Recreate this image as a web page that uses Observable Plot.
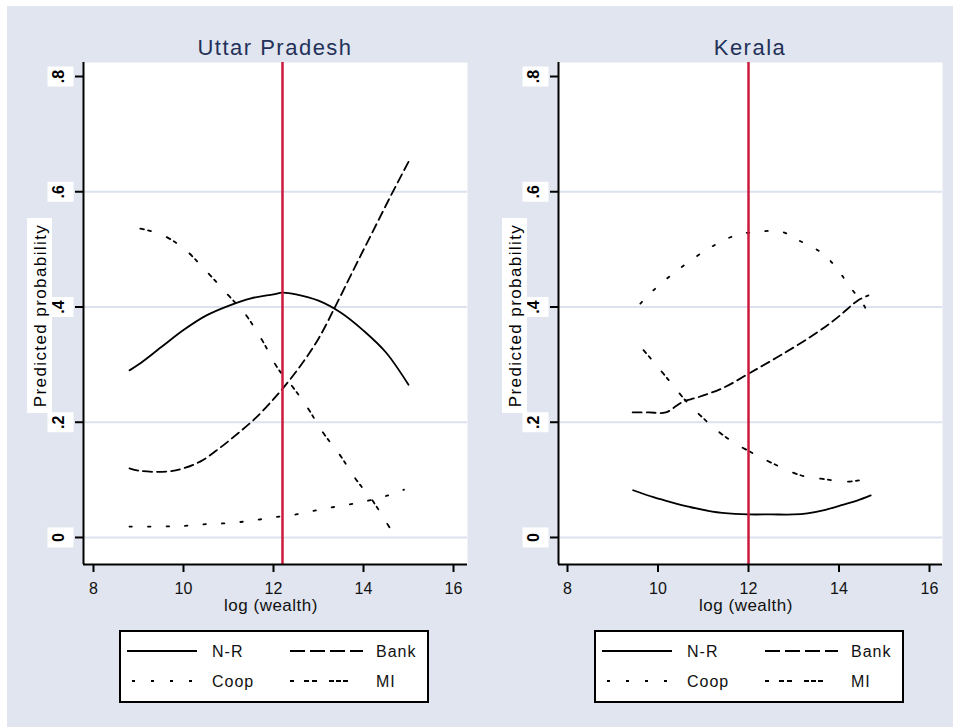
<!DOCTYPE html>
<html><head><meta charset="utf-8">
<script src="https://cdn.jsdelivr.net/npm/d3@7"></script>
<script src="https://cdn.jsdelivr.net/npm/@observablehq/plot@0.6"></script>
<style>
body{margin:0;background:#fff;}
#root{position:relative;width:953px;height:727px;overflow:hidden;font-family:"Liberation Sans",Arial,sans-serif;}
#bg{position:absolute;left:7px;top:6px;right:0;bottom:0;background:#e0e5ef;}
.panel{position:absolute;top:0;}
#overlay{position:absolute;left:0;top:0;pointer-events:none;}
</style>
</head><body>
<div id="root"><div id="bg"></div></div>
<script>
// ---------- data ----------
const states = ["Uttar Pradesh", "Kerala"];
const seriesNames = ["N-R", "Bank", "Coop", "MI"];
const xTicks = [8, 10, 12, 14, 16];
const yTicks = [0, 0.2, 0.4, 0.6, 0.8];
const yTickLabels = ["0", ".2", ".4", ".6", ".8"];
const gridValues = [0, 0.2, 0.4, 0.6];
const thresholds = [12.2, 12.0];
const xTitle = "log (wealth)";
const yTitle = "Predicted probability";

// Uttar Pradesh
const upNR_x = [8.8, 9.0, 9.5, 10.0, 10.5, 11.0, 11.5, 12.0, 12.2, 12.5, 13.0, 13.5, 14.0, 14.5, 15.0];
const upNR_y = [0.290, 0.300, 0.330, 0.360, 0.385, 0.402, 0.415, 0.422, 0.425, 0.422, 0.411, 0.390, 0.359, 0.321, 0.265];
const upBank_x = [8.8, 9.0, 9.3, 9.7, 10.0, 10.4, 10.8, 11.2, 11.6, 12.0, 12.2, 12.6, 13.0, 13.4, 13.8, 14.2, 14.6, 15.0];
const upBank_y = [0.120, 0.116, 0.114, 0.115, 0.120, 0.133, 0.155, 0.180, 0.207, 0.240, 0.258, 0.298, 0.345, 0.405, 0.468, 0.530, 0.592, 0.652];
const upCoop_x = [8.8, 9.5, 10.0, 10.5, 11.0, 11.5, 12.0, 12.5, 13.0, 13.5, 14.0, 14.5, 14.9];
const upCoop_y = [0.019, 0.019, 0.020, 0.023, 0.025, 0.029, 0.035, 0.040, 0.048, 0.055, 0.062, 0.072, 0.083];
const upMI_x = [9.04, 9.5, 10.0, 10.45, 11.0, 11.35, 11.75, 12.1, 12.4, 12.75, 13.1, 13.45, 13.85, 14.2, 14.62];
const upMI_y = [0.536, 0.526, 0.502, 0.467, 0.420, 0.390, 0.342, 0.293, 0.264, 0.226, 0.182, 0.146, 0.099, 0.064, 0.012];

// Kerala
const kNR_x = [9.45, 9.9, 10.3, 10.7, 11.2, 11.7, 12.0, 12.5, 13.0, 13.3, 13.7, 14.1, 14.4, 14.7];
const kNR_y = [0.082, 0.070, 0.061, 0.053, 0.045, 0.041, 0.040, 0.040, 0.040, 0.042, 0.048, 0.057, 0.064, 0.073];
const kBank_x = [9.44, 9.8, 10.17, 10.4, 10.56, 10.87, 11.45, 12.04, 12.77, 13.52, 13.97, 14.41, 14.65];
const kBank_y = [0.217, 0.217, 0.217, 0.228, 0.236, 0.243, 0.260, 0.286, 0.319, 0.356, 0.382, 0.411, 0.420];
const kCoop_x = [9.61, 9.9, 10.4, 11.05, 11.6, 12.1, 12.75, 13.1, 13.6, 13.9, 14.3, 14.5, 14.63];
const kCoop_y = [0.406, 0.429, 0.462, 0.498, 0.521, 0.530, 0.530, 0.516, 0.495, 0.472, 0.429, 0.410, 0.390];
const kMI_x = [9.68, 9.9, 10.3, 10.65, 11.0, 11.3, 11.67, 12.1, 12.55, 13.15, 13.6, 14.2, 14.63];
const kMI_y = [0.325, 0.305, 0.267, 0.234, 0.207, 0.186, 0.165, 0.146, 0.128, 0.108, 0.102, 0.097, 0.102];

// ---------- styles ----------
const dashes = {"N-R": null, "Bank": "9 5", "Coop": "2.5 16", "MI": "4 4 3 17"};
const legendDashes = {"N-R": null, "Bank": "15 5", "Coop": "3 16", "MI": "4 10 5 3 5 12 5 2 5 2 5 60"};
const rows = (xs, ys) => xs.map((x, i) => ({x, y: ys[i]}));
const panelData = [
  {"N-R": rows(upNR_x, upNR_y), "Bank": rows(upBank_x, upBank_y), "Coop": rows(upCoop_x, upCoop_y), "MI": rows(upMI_x, upMI_y)},
  {"N-R": rows(kNR_x, kNR_y), "Bank": rows(kBank_x, kBank_y), "Coop": rows(kCoop_x, kCoop_y), "MI": rows(kMI_x, kMI_y)}
];
const xDomains = [[7.778, 16.311], [7.801, 16.287]];
const yDomain = [-0.0469, 0.8243];
const panelLeft = [0, 475];
const panelWidth = [475, 478];
const font = "Liberation Sans, Arial, sans-serif";
const boxSymbol = {draw(ctx) { ctx.moveTo(-13, -10); ctx.lineTo(13, -10); ctx.lineTo(13, 10); ctx.lineTo(-13, 10); ctx.closePath(); }};

const root = document.getElementById("root");
states.forEach((st, p) => {
  const xd = xDomains[p];
  const lineMarks = seriesNames.map(s => Plot.line(panelData[p][s], {
    x: "x", y: "y", stroke: "black", strokeWidth: 1.8, curve: "catmull-rom",
    strokeDasharray: dashes[s] || undefined
  }));
  const svg = Plot.plot({
    width: panelWidth[p], height: 625,
    marginLeft: 83, marginRight: panelWidth[p] - 467, marginTop: 62, marginBottom: 61,
    style: {background: "transparent", fontFamily: font, overflow: "visible"},
    x: {domain: xd},
    y: {domain: yDomain},
    marks: [
      Plot.frame({fill: "white", stroke: "none"}),
      Plot.ruleY(gridValues, {stroke: "#dce2ee", strokeWidth: 2}),
      Plot.axisX(xTicks, {tickSize: 8, tickPadding: 10, fontSize: 16, label: null, strokeWidth: 2, fill: "#111"}),
      Plot.axisY(yTicks, {tickSize: 8, tickFormat: () => "", label: null, strokeWidth: 2}),
      Plot.dot(yTicks, {x: () => xd[0], y: d => d, dx: -23, symbol: boxSymbol, fill: "white", stroke: "none"}),
      Plot.text(yTicks, {x: () => xd[0], y: d => d, dx: -25, text: (d, i) => yTickLabels[i], rotate: -90,
        fontSize: 16, fontWeight: "bold", fill: "black"}),
      ...lineMarks,
      Plot.ruleX([thresholds[p]], {stroke: "#cc1a3c", strokeWidth: 2.5}),
      Plot.ruleX([xd[0]], {stroke: "black", strokeWidth: 2}),
      Plot.ruleY([yDomain[0]], {stroke: "black", strokeWidth: 2})
    ]
  });
  svg.classList.add("panel");
  svg.style.left = panelLeft[p] + "px";
  root.appendChild(svg);
});

// ---------- overlay: titles, axis titles, legends ----------
const ov = d3.select(root).append("svg").attr("id", "overlay").attr("width", 953).attr("height", 727)
  .style("font-family", font);
states.forEach((st, p) => {
  const off = panelLeft[p];
  ov.append("text").attr("x", off + 275).attr("y", 55).attr("text-anchor", "middle")
    .attr("font-size", 22).attr("letter-spacing", "1.5px").attr("fill", "#233159").text(st);
  ov.append("text").attr("x", off + 271).attr("y", 611).attr("text-anchor", "middle")
    .attr("font-size", 17).attr("letter-spacing", "0.5px").attr("fill", "#111").text(xTitle);
  ov.append("rect").attr("x", off + 27).attr("y", 218).attr("width", 25).attr("height", 195).attr("fill", "white");
  ov.append("text").attr("transform", `translate(${off + 40},315.5) rotate(-90)`).attr("text-anchor", "middle")
    .attr("dy", "0.35em").attr("font-size", 17).attr("letter-spacing", "1.4px").attr("fill", "black").text(yTitle);
  // legend
  const L = 119 + off;
  const g = ov.append("g");
  g.append("rect").attr("x", L + 1).attr("y", 631).attr("width", 308).attr("height", 71)
    .attr("fill", "white").attr("stroke", "black").attr("stroke-width", 2);
  const pos = {"N-R": [L + 8, L + 78, 651, L + 93], "Bank": [L + 171, L + 244, 651, L + 257],
               "Coop": [L + 13, L + 78, 681, L + 93], "MI": [L + 171, L + 236, 681, L + 257]};
  seriesNames.forEach(s => {
    const [x1, x2, y, tx] = pos[s];
    g.append("line").attr("x1", x1).attr("x2", x2).attr("y1", y).attr("y2", y)
      .attr("stroke", "black").attr("stroke-width", 2).attr("stroke-dasharray", legendDashes[s]);
    g.append("text").attr("x", tx).attr("y", y + 6).attr("font-size", 16).attr("letter-spacing", "1px")
      .attr("fill", "#111").text(s);
  });
});
</script>
</body></html>
